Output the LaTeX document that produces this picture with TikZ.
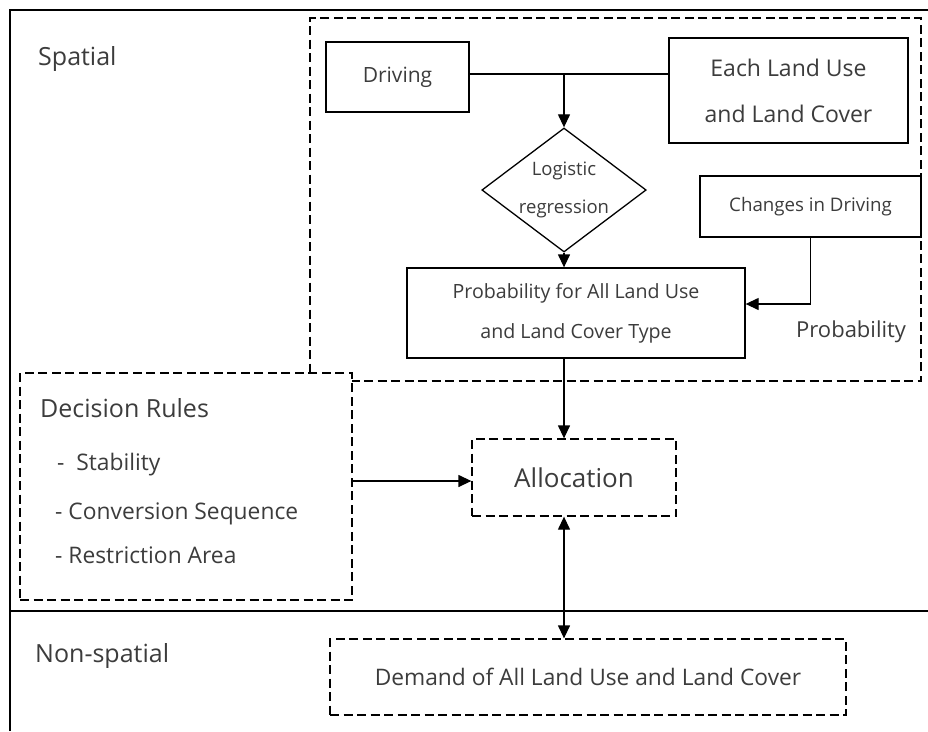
\documentclass[tikz,border=0pt]{standalone}
\usepackage{fontspec}
\setmainfont{Open Sans}
\usetikzlibrary{shapes.geometric,arrows.meta}
\definecolor{txt}{HTML}{3C3C3C}
\newcommand\myfs[2]{\fontsize{#1}{#2}\selectfont}
\begin{document}
\begin{tikzpicture}[x=1pt,y=-1pt,
  box/.style={draw, line width=1.3pt, inner sep=0pt, align=center, text=txt},
  dbox/.style={box, dash pattern=on 9pt off 4.5pt},
  lbl/.style={inner sep=0pt, text=txt, anchor=base west},
  ln/.style={line width=1.3pt},
  arr/.style={line width=1.3pt, -{Triangle[length=13pt,width=12pt]}},
  arrr/.style={line width=1.3pt, {Triangle[length=13pt,width=12pt]}-{Triangle[length=13pt,width=12pt]}}]
\useasboundingbox (0,0) rectangle (928,731);
\fill[white] (0,0) rectangle (928,731);
% frame
\draw[ln] (10,731) -- (10,10) -- (928,10);
\draw[ln] (10,611) -- (928,611);
% spatial group
\node[dbox, minimum width=611pt, minimum height=363pt] (grp) at (615.5,199.5) {};
% boxes
\node[box, minimum width=143pt, minimum height=70pt, font=\myfs{21}{42}] (drv) at (397.5,77) {Driving};
\node[box, minimum width=239pt, minimum height=105pt, font=\myfs{23}{46}] (each) at (788.5,90.5) {Each Land Use\\and Land Cover};
\node[box, diamond, shape aspect=1.325, minimum width=159pt, minimum height=120pt, font=\myfs{18.5}{38}] (diam) at (564,190) {Logistic\\regression};
\node[box, minimum width=221pt, minimum height=61pt, font=\myfs{18.7}{37}] (chg) at (810.5,206.5) {Changes in Driving};
\node[box, minimum width=338pt, minimum height=90pt, font=\myfs{19.6}{40}] (prob) at (576,313) {Probability for All Land Use\\and Land Cover Type};
\node[lbl, font=\myfs{22}{44}] (problbl) at (796,337) {Probability};
\node[dbox, fill=white, minimum width=332pt, minimum height=227pt] (dec) at (186,486.5) {};
\node[dbox, minimum width=204pt, minimum height=77pt, font=\myfs{26}{52}] (alloc) at (574,477.5) {Allocation};
\node[dbox, minimum width=516pt, minimum height=76pt, font=\myfs{22.75}{45}] (dem) at (588,677) {Demand of All Land Use and Land Cover};
% labels
\node[lbl, font=\myfs{25}{50}] (spatial) at (38,65) {Spatial};
\node[lbl, font=\myfs{25}{50}] (nonsp) at (35,662) {Non-spatial};
\node[lbl, font=\myfs{25}{50}] (decl) at (40,417) {Decision Rules};
\node[lbl, font=\myfs{22.8}{45}] (r1) at (57,470) {-~ Stability};
\node[lbl, font=\myfs{22.8}{45}] (r2) at (55,519) {- Conversion Sequence};
\node[lbl, font=\myfs{22.8}{45}] (r3) at (55,563) {- Restriction Area};
% connectors
\coordinate (j) at (564,74);
\draw[ln] (drv.east |- j) -- (each.west |- j);
\draw[arr] (j) -- (diam.north);
\draw[arr] (diam.south) -- (diam.south |- prob.north);
\draw[arr] (chg.south) |- ([yshift=9pt]prob.east);
\draw[arr] (diam.south |- prob.south) -- (diam.south |- alloc.north);
\draw[arr] ([yshift=-3.5pt]dec.east |- alloc.west) -- ([yshift=-3.5pt]alloc.west);
\draw[arrr] (diam.south |- alloc.south) -- (diam.south |- dem.north);
\end{tikzpicture}
\end{document}
